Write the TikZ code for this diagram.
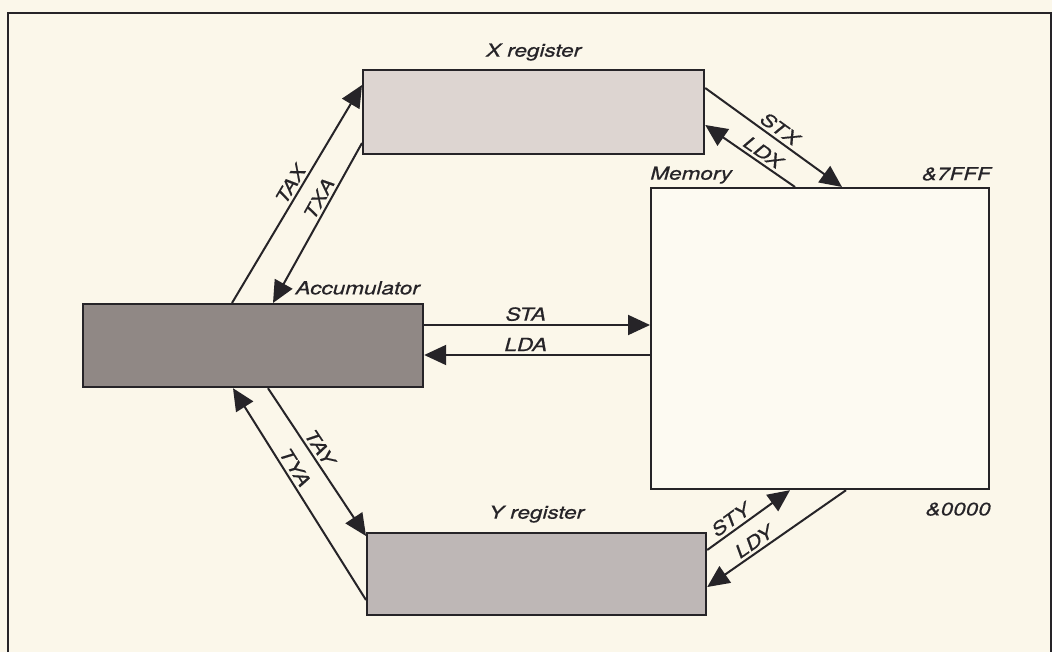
\documentclass[tikz,border=0pt]{standalone}
\usepackage{fontspec}
\newfontfamily\lblfont{TeX Gyre Heros}[FakeStretch=1.25, FakeBold=0.6]
\usetikzlibrary{arrows.meta, positioning, calc}
\definecolor{paper_col}{RGB}{251, 247, 234}
\definecolor{xreg_col}{RGB}{221, 213, 209}
\definecolor{acc_col}{RGB}{144, 136, 133}
\definecolor{yreg_col}{RGB}{190, 183, 182}
\definecolor{mem_col}{RGB}{253, 250, 242}
\definecolor{ink_col}{RGB}{38, 36, 40}

\begin{document}
\begin{tikzpicture}[
    x=0.5pt, y=-0.5pt,
    every node/.style={font=\lblfont\itshape\fontsize{9}{11}\selectfont, text=ink_col},
    reg/.style={rectangle, draw=ink_col, line width=1.1pt, anchor=north west, inner sep=0pt},
    arr/.style={line width=1pt, draw=ink_col, -{Triangle[length=11pt, width=10pt]}},
    lbl/.style={inner sep=1.5pt},
]
  \fill[paper_col] (0,0) rectangle (1052,652);
  \useasboundingbox (0,0) rectangle (1052,652);
  \draw[ink_col, line width=1.4pt] (8,652) -- (8,13) -- (1051,13) -- (1051,652);

  % registers and memory
  \node[reg, fill=xreg_col, minimum width=170.5pt, minimum height=42pt] (xreg) at (362,69) {};
  \node[reg, fill=acc_col, minimum width=170pt, minimum height=41.5pt] (acc) at (82,303) {};
  \node[reg, fill=yreg_col, minimum width=169.5pt, minimum height=41pt] (yreg) at (366,532) {};
  \node[reg, fill=mem_col, minimum width=169pt, minimum height=150.5pt] (mem) at (650,187) {};

  \node[lbl, above=2.5pt of xreg] (xreg_lbl) {X register};
  \node[lbl, above left=2.5pt and 0.5pt of acc.north east] (acc_lbl) {Accumulator};
  \node[lbl, above=3pt of yreg] (yreg_lbl) {Y register};
  \node[lbl, above right=0pt and -1.5pt of mem.north west] (mem_lbl) {Memory};
  \node[lbl, above left=1.5pt and -2pt of mem.north east] (top_lbl) {\&7FFF};
  \node[lbl, below left=4.5pt and -2pt of mem.south east] (bot_lbl) {\&0000};

  % transfers
  \draw[arr] ([xshift=75pt]acc.north west) -- node[lbl, sloped, above, pos=0.52] {TAX} ([yshift=-8pt]xreg.north west);
  \draw[arr] ([yshift=-37pt]xreg.north west) -- node[lbl, sloped, above, pos=0.38] {TXA} ([xshift=95.5pt]acc.north west);
  \draw[arr] ([xshift=93pt]acc.south west) -- node[lbl, sloped, above, pos=0.44] {TAY} ([yshift=-2pt]yreg.north west);
  \draw[arr] ([yshift=-34pt]yreg.north west) -- node[lbl, sloped, above, pos=0.6] {TYA} ([xshift=75.5pt]acc.south west);

  \draw[arr] ([yshift=-11pt]acc.north east) -- node[lbl, above, pos=0.45] {STA} ([yshift=-69pt]mem.north west);
  \draw[arr] ([yshift=-84pt]mem.north west) -- node[lbl, above, pos=0.55] {LDA} ([yshift=-26pt]acc.north east);
  \draw[arr] ([yshift=-9.5pt]xreg.north east) -- node[lbl, sloped, above, pos=0.5] {STX} ([xshift=96pt]mem.north west);
  \draw[arr] ([xshift=72.5pt]mem.north west) -- node[lbl, sloped, above, pos=0.42] {LDX} ([yshift=-28pt]xreg.north east);
  \draw[arr] ([yshift=-9pt]yreg.north east) -- node[lbl, sloped, above, pos=0.36] {STY} ([xshift=70pt]mem.south west);
  \draw[arr] ([xshift=98pt]mem.south west) -- node[lbl, sloped, above, pos=0.62] {LDY} ([yshift=-27.5pt]yreg.north east);
\end{tikzpicture}
\end{document}
